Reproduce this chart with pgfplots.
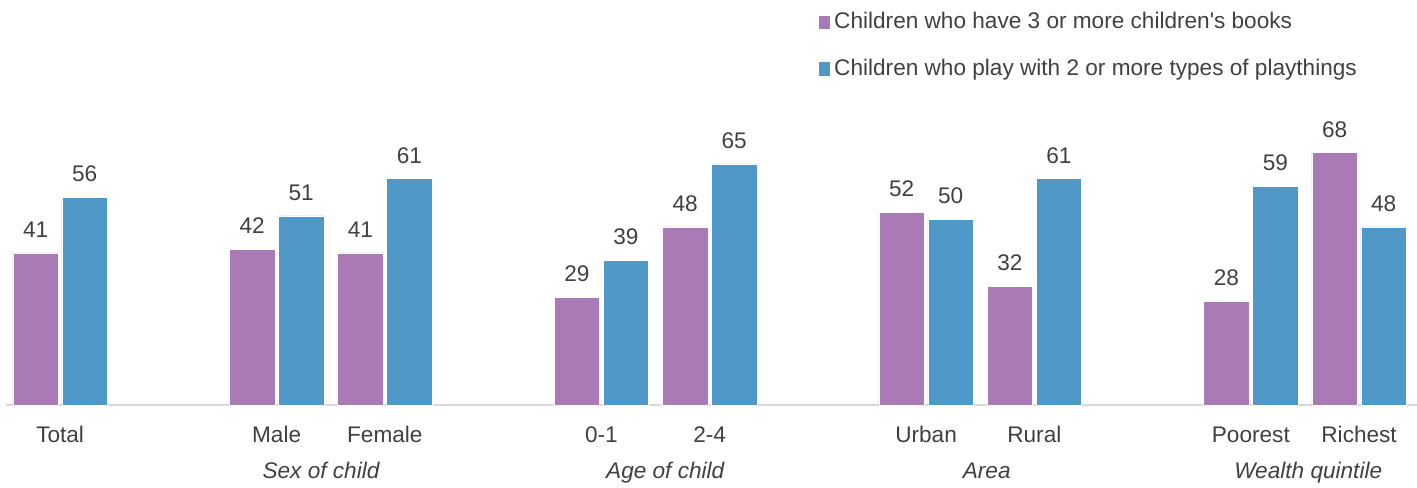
\documentclass[border=0pt]{standalone}
\usepackage{pgfplots}
\pgfplotsset{compat=1.18}
\usepackage{fontspec}
\setmainfont{Liberation Sans}[Ligatures=TeXOff]
\definecolor{cpur}{HTML}{AA7AB6}
\definecolor{cblu}{HTML}{4F98C8}
\definecolor{ctxt}{HTML}{404040}
\definecolor{caxis}{HTML}{D9D9D9}
\newcommand{\fs}{\fontsize{11.3pt}{13pt}\selectfont}
\begin{document}
\begin{tikzpicture}[font=\fs, text=ctxt]
\useasboundingbox (-3pt,-41pt) rectangle (705.5pt,202.5pt);
\begin{axis}[
  at={(0,0)}, anchor=south west,
  scale only axis,
  width=705.5pt, height=148.4pt,
  xmin=-0.5, xmax=12.535,
  ymin=0, ymax=80,
  axis y line=none,
  axis x line*=bottom,
  x axis line style={draw=caxis, line width=0.6pt, -},
  xtick={0,2,3,5,6,8,9,11,12},
  xticklabels={Total,Male,Female,0-1,2-4,Urban,Rural,Poorest,Richest},
  major tick length=0pt,
  xticklabel style={anchor=base, yshift=-18.5pt, text=ctxt, font=\fs},
  ybar, bar width=0.42,
  nodes near coords,
  nodes near coords style={/pgf/number format/assume math mode=true},
  every node near coord/.append style={text=ctxt, inner sep=0pt, yshift=7.5pt, anchor=south, font=\fs},
  clip=false,
  legend style={at={(0.5755,1.337)}, anchor=north west, draw=none, fill=none,
    row sep=9.5pt, inner sep=0pt, font=\fs, text=ctxt,
    cells={anchor=west}, /tikz/every even column/.append style={column sep=1.5pt}},
  legend cell align=left,
  legend image code/.code={\fill[#1] (0pt,-3.6pt) rectangle (5.6pt,3.6pt);},
]
\addplot[fill=cpur, draw=white, line width=0.3pt, bar shift=-0.226] coordinates {
 (0,41) (2,42) (3,41) (5,29) (6,48) (8,52) (9,32) (11,28) (12,68)};
\addplot[fill=cblu, draw=white, line width=0.3pt, bar shift=0.226] coordinates {
 (0,56) (2,51) (3,61) (5,39) (6,65) (8,50) (9,61) (11,59) (12,48)};
\legend{Children who have 3 or more children's books, Children who play with 2 or more types of playthings}
\node[anchor=base, font=\fs\itshape, text=ctxt] at (axis cs:2.41,0) [yshift=-36.5pt] {Sex of child};
\node[anchor=base, font=\fs\itshape, text=ctxt] at (axis cs:5.59,0) [yshift=-36.5pt] {Age of child};
\node[anchor=base, font=\fs\itshape, text=ctxt] at (axis cs:8.56,0) [yshift=-36.5pt] {Area};
\node[anchor=base, font=\fs\itshape, text=ctxt] at (axis cs:11.53,0) [yshift=-36.5pt] {Wealth quintile};
\end{axis}
\end{tikzpicture}
\end{document}
